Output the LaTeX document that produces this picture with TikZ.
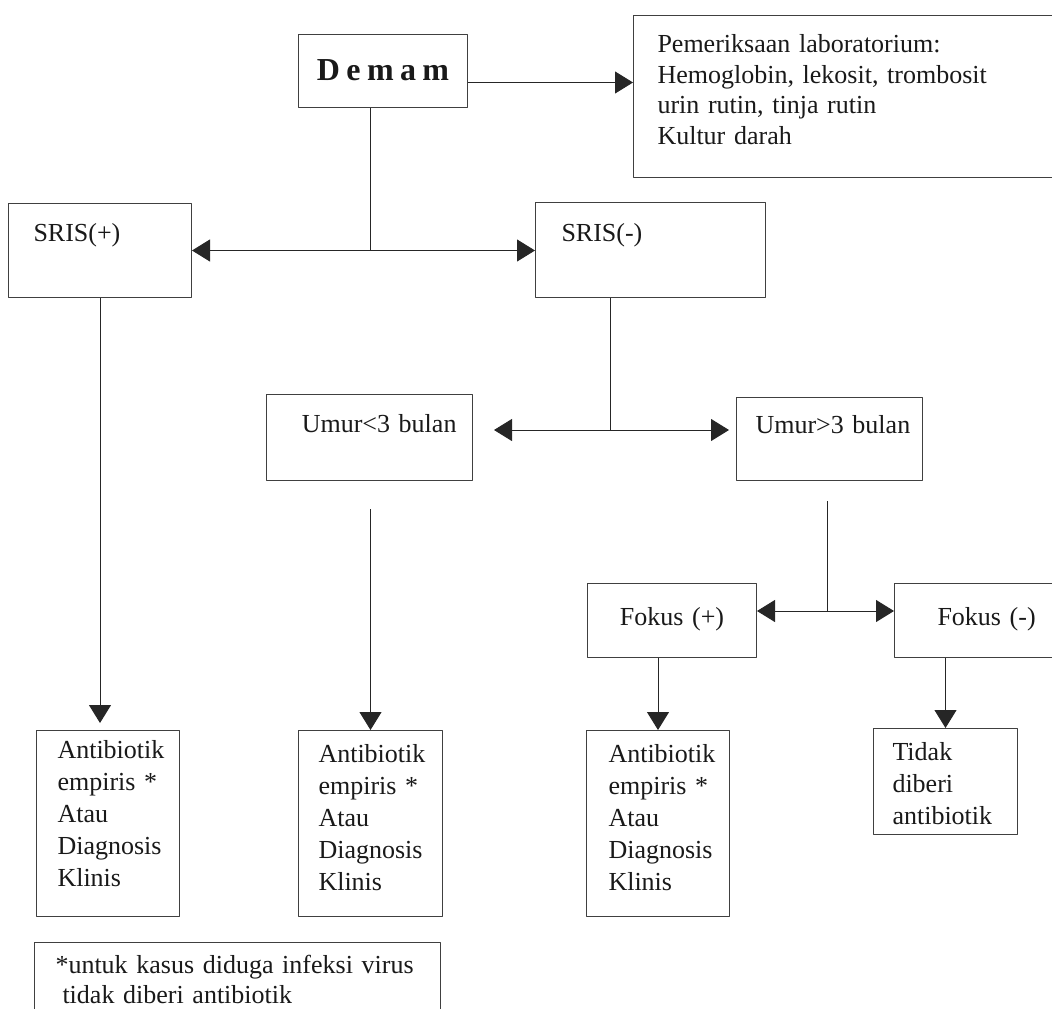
\documentclass[tikz,border=0pt]{standalone}
\usepackage{fontspec}
\setmainfont{Liberation Serif}
\newfontfamily\judulfont[LetterSpace=20]{Liberation Serif}
\usetikzlibrary{arrows.meta}
\begin{document}
\begin{tikzpicture}[x=1pt,y=-1pt,line join=round,>={Triangle[length=18pt,width=22pt]}]
	\tikzset{every node/.style={font=\fontsize{26}{32}\selectfont,text=black!90},
		kotak/.style={draw=black!75,line width=1pt,anchor=north west,inner ysep=0pt,align=left},
		garis/.style={draw=black!85,line width=1pt}}
	\useasboundingbox (0,0) rectangle (1052,1009);
	\clip (0,0) rectangle (1052,1009);
	\node[kotak,align=center,inner xsep=10pt,text width=149pt,text height=46pt,text depth=27pt,font=\judulfont\bfseries\fontsize{32}{34}\selectfont] (demam) at (298,34) {\mbox{Demam}};
	\node[kotak,inner xsep=24pt,text width=379pt,text height=37pt,text depth=125pt,font=\fontsize{26}{30.5}\selectfont] (lab) at (633,15) {Pemeriksaan laboratorium:\\Hemoglobin, lekosit, trombosit\\urin rutin, tinja rutin\\Kultur darah};
	\node[kotak,inner xsep=25pt,text width=133pt,text height=38pt,text depth=56pt] (srisp) at (8,203) {SRIS(+)};
	\node[kotak,inner xsep=26pt,text width=178pt,text height=39pt,text depth=56pt] (srism) at (535,202) {SRIS(-)};
	\node[kotak,align=right,inner xsep=16pt,text width=174pt,text height=38pt,text depth=48pt] (umurA) at (266,394) {\mbox{Umur<3 bulan}};
	\node[kotak,inner xsep=19pt,text width=148pt,text height=36pt,text depth=47pt] (umurB) at (736,397) {\mbox{Umur>3 bulan}};
	\node[kotak,align=center,inner xsep=10pt,text width=149pt,text height=42pt,text depth=32pt] (fokusP) at (587,583) {\mbox{Fokus (+)}};
	\node[kotak,inner xsep=43pt,text width=83pt,text height=42pt,text depth=32pt] (fokusM) at (894,583) {\mbox{Fokus (-)}};
	\node[kotak,inner xsep=21pt,text width=101pt,text height=28pt,text depth=158pt] (anti1) at (36,730) {\mbox{Antibiotik}\\\mbox{empiris *}\\Atau\\Diagnosis\\Klinis};
	\node[kotak,inner xsep=20pt,text width=104pt,text height=32pt,text depth=154pt] (anti2) at (298,730) {\mbox{Antibiotik}\\\mbox{empiris *}\\Atau\\Diagnosis\\Klinis};
	\node[kotak,inner xsep=22pt,text width=99pt,text height=32pt,text depth=154pt] (anti3) at (586,730) {\mbox{Antibiotik}\\\mbox{empiris *}\\Atau\\Diagnosis\\Klinis};
	\node[kotak,inner xsep=19pt,text width=106pt,text height=32pt,text depth=74pt] (tidak) at (873,728) {Tidak\\diberi\\antibiotik};
	\node[kotak,inner xsep=21pt,text width=364pt,text height=31pt,text depth=47pt,font=\fontsize{26}{30}\selectfont] (catatan) at (34,942) {\mbox{*untuk kasus diduga infeksi virus}\\\hspace*{7pt}tidak diberi antibiotik};
	\coordinate (j2) at (610,430);
	\coordinate (j3) at (827,611);
	\draw[garis,->] ([yshift=-11.5pt]demam.east) coordinate (d1) -- (d1 -| lab.west);
	\draw[garis] ([xshift=-12.5pt]demam.south) coordinate (c1) -- (c1 |- srisp.east);
	\draw[garis,<->] (srisp.east) -- (srisp.east -| srism.west);
	\draw[garis] (srism.south -| j2) -- (j2);
	\draw[garis,<->,shorten <=21pt,shorten >=7pt] (j2 -| umurA.east) -- (j2 -| umurB.west);
	\draw[garis] ([yshift=-20pt]umurB.south -| j3) -- (j3);
	\draw[garis,<->] (j3 -| fokusP.east) -- (j3 -| fokusM.west);
	\draw[garis,->,shorten >=7pt] (srisp.south) -- (srisp.south |- anti1.north);
	\draw[garis,->] ([yshift=-28pt]umurA.south -| anti2.north) -- (anti2.north);
	\draw[garis,->] (anti3.north |- fokusP.south) -- (anti3.north);
	\draw[garis,->] (tidak.north |- fokusM.south) -- (tidak.north);
\end{tikzpicture}
\end{document}
